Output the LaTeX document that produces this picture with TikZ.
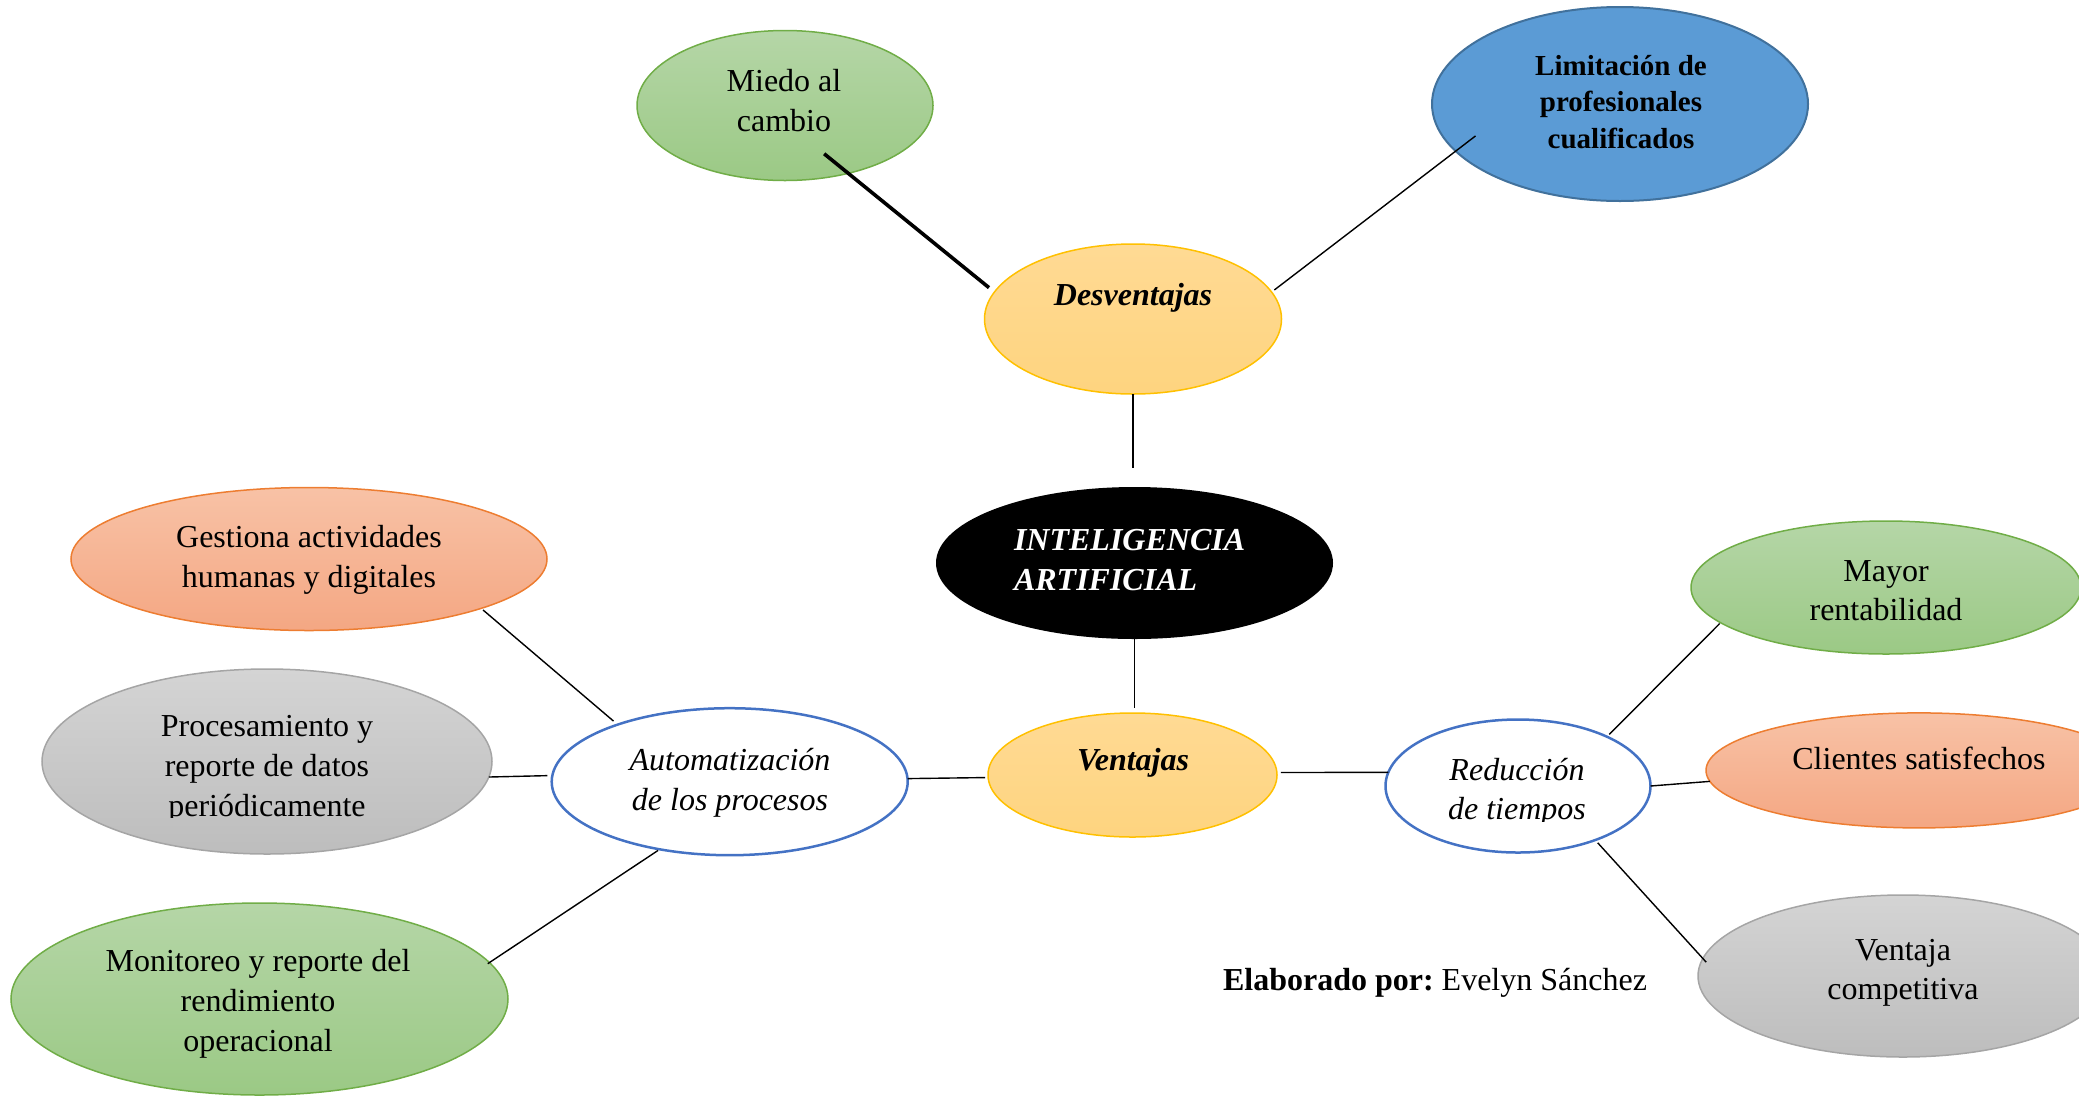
\documentclass[tikz,border=0pt]{standalone}
\usepackage{fontspec}
\setmainfont{Liberation Serif}
\usetikzlibrary{shapes.geometric}

\definecolor{greenTop}{HTML}{B5D6A7}
\definecolor{greenBot}{HTML}{9BC985}
\definecolor{greenLine}{HTML}{70AD47}
\definecolor{orangeTop}{HTML}{F8C2A6}
\definecolor{orangeBot}{HTML}{F4A783}
\definecolor{orangeLine}{HTML}{ED7D31}
\definecolor{grayTop}{HTML}{D4D4D4}
\definecolor{grayBot}{HTML}{BDBDBD}
\definecolor{grayLine}{HTML}{A5A5A5}
\definecolor{yellowTop}{HTML}{FFDA94}
\definecolor{yellowBot}{HTML}{FED47F}
\definecolor{yellowLine}{HTML}{FFC000}
\definecolor{blueFill}{HTML}{5B9BD5}
\definecolor{blueDark}{HTML}{41719C}
\definecolor{blueLine}{HTML}{4472C4}

% centred / left-aligned multi-line labels, anchored on the first baseline
\newcommand\txtlines[1]{\begin{tabular}[t]{@{}c@{}}#1\end{tabular}}
\newcommand\txtlinesl[1]{\begin{tabular}[t]{@{}l@{}}#1\end{tabular}}

\frenchspacing

\begin{document}
\begin{tikzpicture}[x=1pt,y=-1pt,
  bubble/.style={ellipse, inner sep=0pt, outer sep=0pt, line width=1.5pt},
  greenbub/.style={bubble, draw=greenLine, top color=greenTop, bottom color=greenBot},
  orangebub/.style={bubble, draw=orangeLine, top color=orangeTop, bottom color=orangeBot},
  graybub/.style={bubble, draw=grayLine, top color=grayTop, bottom color=grayBot},
  yellowbub/.style={bubble, draw=yellowLine, top color=yellowTop, bottom color=yellowBot},
  bluebub/.style={bubble, draw=blueDark, fill=blueFill, line width=2pt},
  blackbub/.style={bubble, fill=black},
  outlinebub/.style={bubble, draw=blueLine, fill=white, line width=2.5pt},
  txt/.style={inner sep=0pt, outer sep=0pt, anchor=base, font=\fontsize{32}{40}\selectfont},
  link/.style={draw=black, line width=1.4pt},
  thicklink/.style={draw=black, line width=3.6pt}]

\useasboundingbox (0,0) rectangle (2079,1096);
\clip (0,0) rectangle (2079,1096);

% ---------- bubbles ----------
\node[greenbub,  minimum width=296pt, minimum height=150pt] (miedo)   at (785,105.5) {};
\node[bluebub,   minimum width=376pt, minimum height=194pt] (limit)   at (1620,104) {};
\node[yellowbub, minimum width=297pt, minimum height=150pt] (desv)    at (1133,319) {};
\node[blackbub,  minimum width=397pt, minimum height=152pt] (ia)      at (1134.5,563) {};
\node[yellowbub, minimum width=289pt, minimum height=124pt] (vent)    at (1132.5,775) {};
\node[outlinebub,minimum width=356pt, minimum height=147pt] (auto)    at (729.7,781.7) {};
\node[outlinebub,minimum width=265pt, minimum height=133pt] (reduc)   at (1518,786) {};
\node[orangebub, minimum width=476pt, minimum height=143pt] (gest)    at (309,559) {};
\node[graybub,   minimum width=450pt, minimum height=185pt] (proc)    at (267,761.5) {};
\node[greenbub,  minimum width=497pt, minimum height=192pt] (monit)   at (259.5,999) {};
\node[greenbub,  minimum width=390pt, minimum height=133pt] (mayor)   at (1886,587.5) {};
\node[orangebub, minimum width=426pt, minimum height=115pt] (client)  at (1919,770.4) {};
\node[graybub,   minimum width=410pt, minimum height=162pt] (ventaja) at (1903,976) {};

% ---------- connectors ----------
\draw[thicklink, shorten <=-31pt, shorten >=7pt] (miedo.-47.7) -- (desv.169.6);
\draw[link, shorten <=3.5pt, shorten >=-25pt] (desv.11.9) -- (limit.196.8);
\draw[link, shorten >=19pt] (desv.south) -- (desv.south |- ia.north);
\draw[link, shorten >=5pt] (ia.south) -- (ia.south |- vent.north);
\draw[link, shorten <=3pt] (vent.181.6) -- (auto.1.2);
\draw[link, shorten <=4pt] (vent.1.2) -- (reduc.174.3);
\draw[link, shorten <=5pt] (auto.178.1) -- (proc.-4.2);
\draw[link, shorten <=5.4pt, shorten >=2.5pt] (auto.153.8) -- (gest.-16);
\draw[link, shorten <=2pt, shorten >=-2pt] (auto.224.5) -- (monit.9.2);
\draw[link, shorten <=3.3pt, shorten >=1.3pt] (reduc.29.6) -- (mayor.192);
\draw[link] (reduc.0.9) -- (client.183.3);
\draw[link, shorten <=3.7pt, shorten >=-5pt] (reduc.-35.3) -- (ventaja.175.2);

% ---------- labels ----------
\node[txt] (miedo-t) at (784,91.7) {\txtlines{Miedo al\\cambio}};
\node[txt, font=\fontsize{29}{36.5}\selectfont\bfseries] (limit-t) at (1621,75) {\txtlines{Limitación de\\profesionales\\cualificados}};
\node[txt, font=\fontsize{32}{40}\selectfont\bfseries\itshape] (desv-t) at (1133,305) {Desventajas};
\node[txt, anchor=base west, text=white, font=\fontsize{32}{40}\selectfont\bfseries\itshape] (ia-t) at (1014,550) {\txtlinesl{INTELIGENCIA\\ARTIFICIAL}};
\node[txt, font=\fontsize{32}{40}\selectfont\bfseries\itshape] (vent-t) at (1133,770) {Ventajas};
\node[txt, font=\fontsize{32}{40}\selectfont\itshape] (auto-t) at (730,770) {\txtlines{Automatización\\de los procesos}};
\begin{scope}
  \clip (1300,700) rectangle (1700,821);
  \node[txt, font=\fontsize{32}{39}\selectfont\itshape] (reduc-t) at (1517,780) {\txtlines{Reducción\\de tiempos}};
\end{scope}
\node[txt] (gest-t) at (309,547) {\txtlines{Gestiona actividades\\humanas y digitales}};
\begin{scope}
  \clip (0,680) rectangle (520,817.5);
  \node[txt] (proc-t) at (267,736) {\txtlines{Procesamiento y\\reporte de datos\\periódicamente}};
\end{scope}
\node[txt] (monit-t) at (258,971) {\txtlines{Monitoreo y reporte del\\rendimiento\\operacional}};
\node[txt, font=\fontsize{32}{39}\selectfont] (mayor-t) at (1886,581) {\txtlines{Mayor\\rentabilidad}};
\node[txt] (client-t) at (1919,769) {Clientes satisfechos};
\node[txt, font=\fontsize{32}{39}\selectfont] (ventaja-t) at (1903,960) {\txtlines{Ventaja\\competitiva}};
\node[txt, anchor=base west] (autor) at (1223,990) {\textbf{Elaborado por:} Evelyn Sánchez};

\end{tikzpicture}
\end{document}
